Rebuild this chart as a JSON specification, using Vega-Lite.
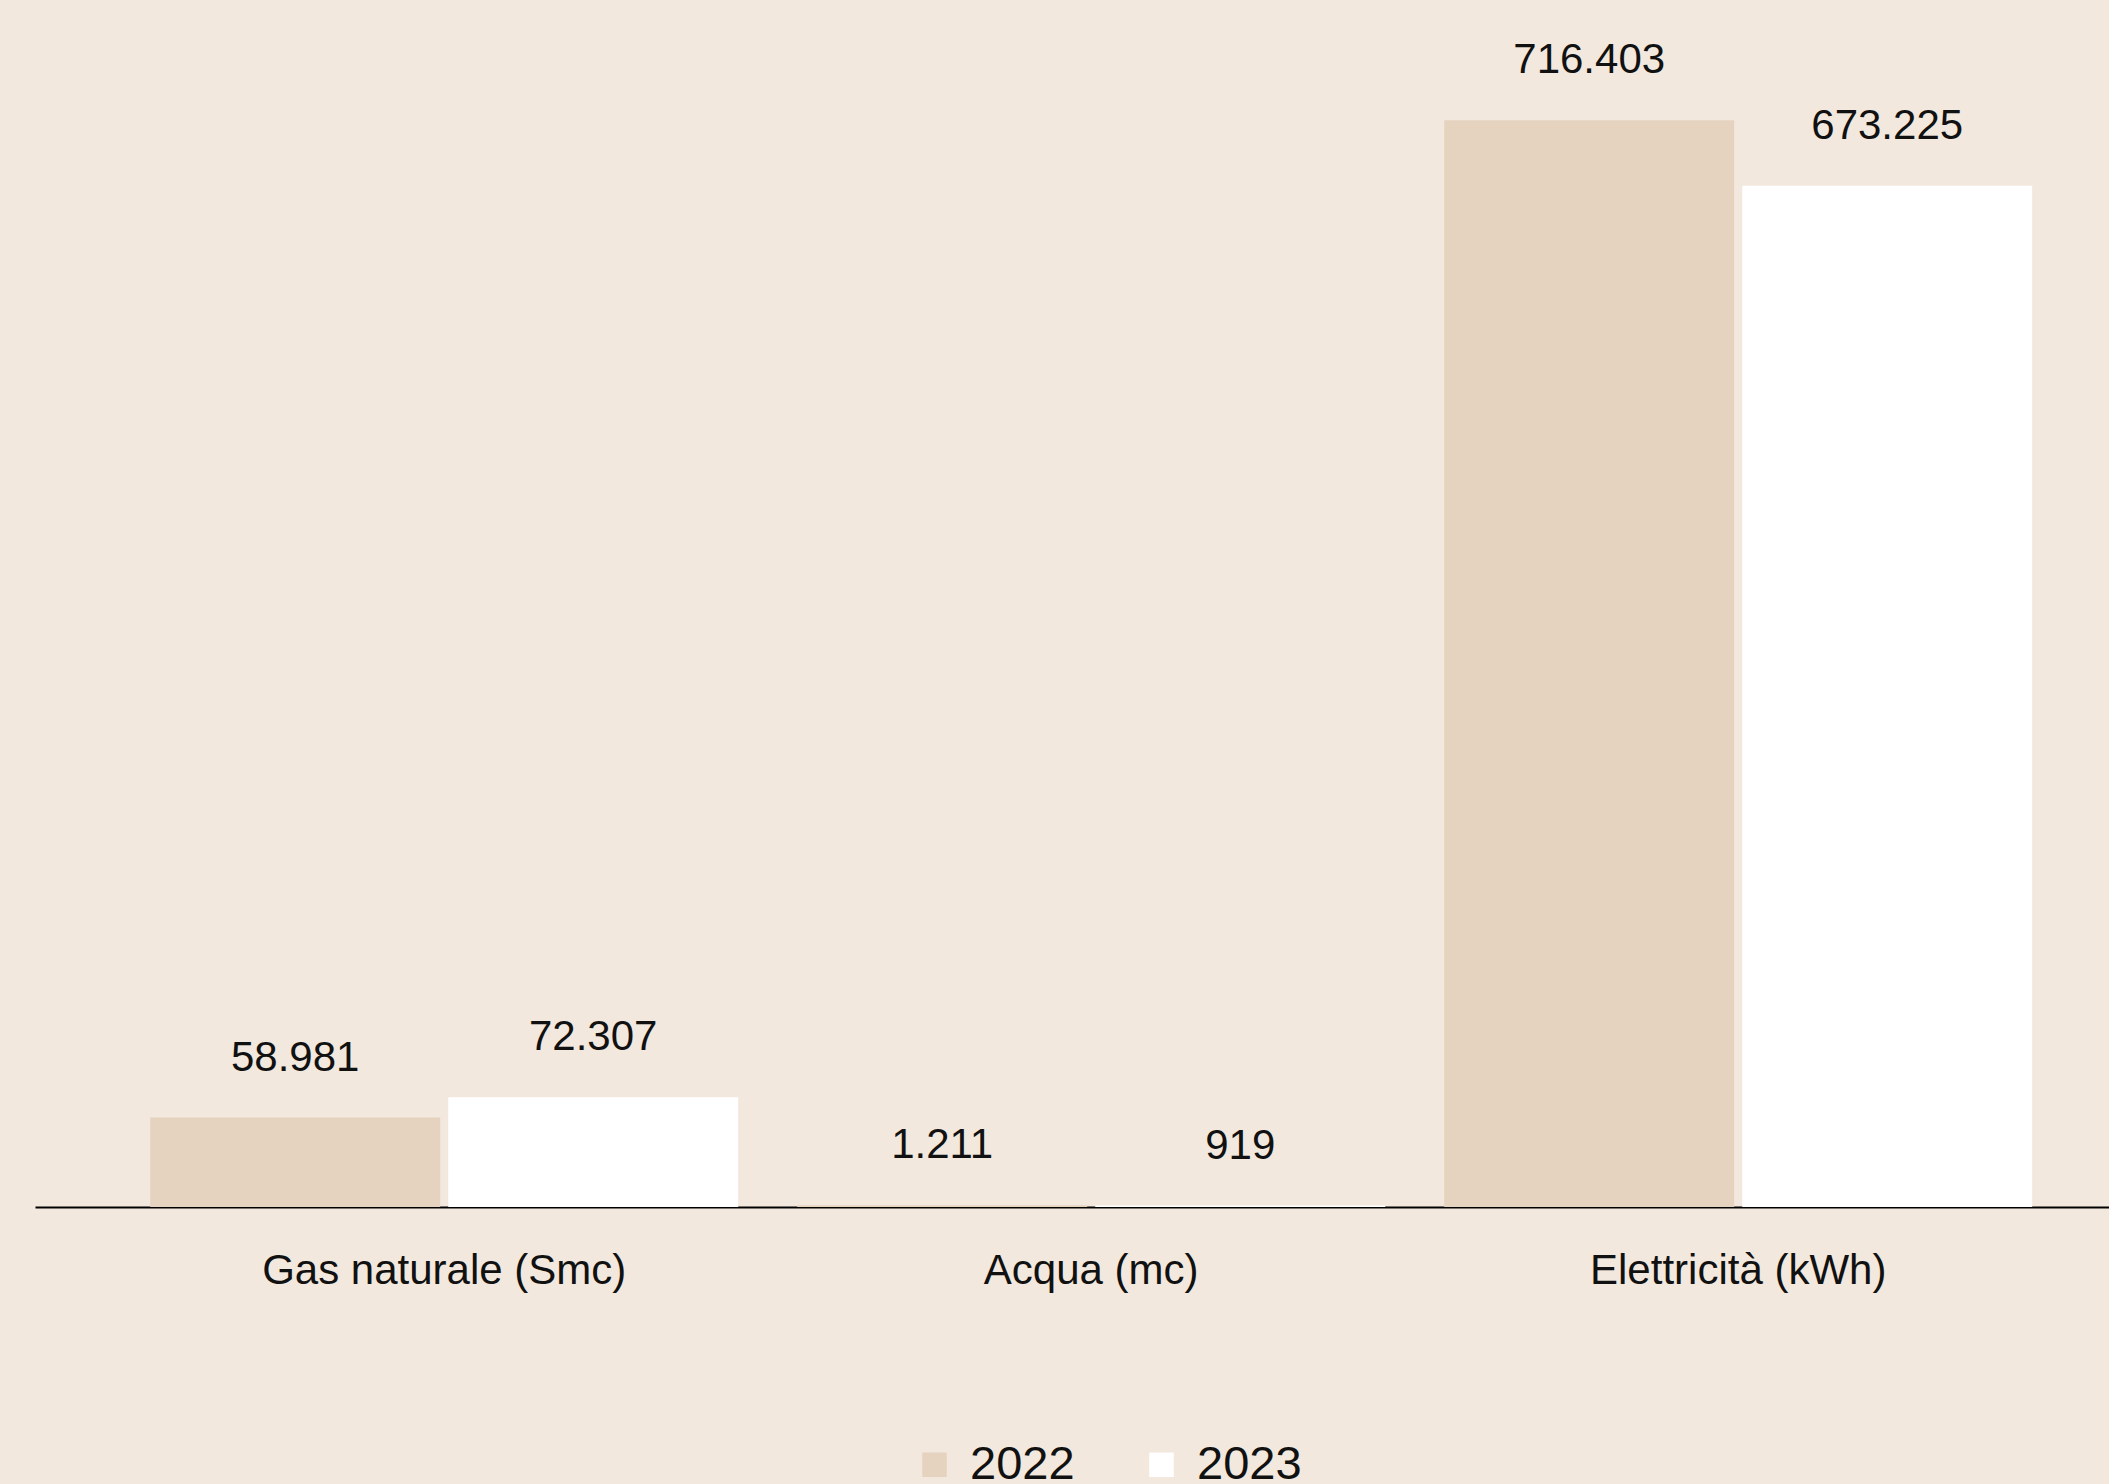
{
  "$schema": "https://vega.github.io/schema/vega-lite/v6.json",
  "width": 2074,
  "height": 1207,
  "autosize": {"type": "none"},
  "padding": {"left": 35, "top": 0, "right": 0, "bottom": 277},
  "background": "#F2E8DD",
  "config": {
    "view": {"stroke": null},
    "font": "Liberation Sans",
    "locale": {
      "number": {"decimal": ",", "thousands": ".", "grouping": [3], "currency": ["€", ""]}
    }
  },
  "data": {
    "values": [
      {"categoria": "Gas naturale (Smc)", "anno": "2022", "valore": 58981},
      {"categoria": "Gas naturale (Smc)", "anno": "2023", "valore": 72307},
      {"categoria": "Acqua (mc)", "anno": "2022", "valore": 1211},
      {"categoria": "Acqua (mc)", "anno": "2023", "valore": 919},
      {"categoria": "Elettricità (kWh)", "anno": "2022", "valore": 716403},
      {"categoria": "Elettricità (kWh)", "anno": "2023", "valore": 673225}
    ]
  },
  "encoding": {
    "x": {
      "field": "categoria",
      "type": "nominal",
      "sort": null,
      "scale": {"paddingInner": 0.0912, "paddingOuter": 0.1484, "align": 0.6},
      "axis": {
        "title": null,
        "labelAngle": 0,
        "labelLimit": 0,
        "ticks": false,
        "grid": false,
        "domainColor": "#000000",
        "domainWidth": 2,
        "labelFont": "Liberation Sans",
        "labelFontSize": 42,
        "labelColor": "#111111",
        "labelPadding": 43
      }
    },
    "xOffset": {"field": "anno", "type": "nominal", "scale": {"paddingInner": 0.027}},
    "y": {
      "field": "valore",
      "type": "quantitative",
      "scale": {"domain": [0, 795650], "nice": false, "zero": true},
      "axis": null
    }
  },
  "layer": [
    {
      "mark": {"type": "bar"},
      "encoding": {
        "color": {
          "field": "anno",
          "type": "nominal",
          "scale": {"domain": ["2022", "2023"], "range": ["#E5D3BF", "#FFFFFF"]},
          "legend": {
            "title": null,
            "orient": "none",
            "legendX": 876,
            "legendY": 1441,
            "direction": "horizontal",
            "symbolType": "square",
            "symbolSize": 600,
            "symbolStrokeWidth": 0,
            "symbolOpacity": 1,
            "labelFont": "Liberation Sans",
            "labelFontSize": 47,
            "labelColor": "#111111",
            "labelOffset": 12,
            "columnPadding": 63,
            "padding": 0
          }
        }
      }
    },
    {
      "mark": {
        "type": "text",
        "dy": -47,
        "baseline": "alphabetic",
        "font": "Liberation Sans",
        "fontSize": 42,
        "color": "#111111"
      },
      "encoding": {
        "text": {"field": "valore", "type": "quantitative", "format": ",d"}
      }
    }
  ]
}
